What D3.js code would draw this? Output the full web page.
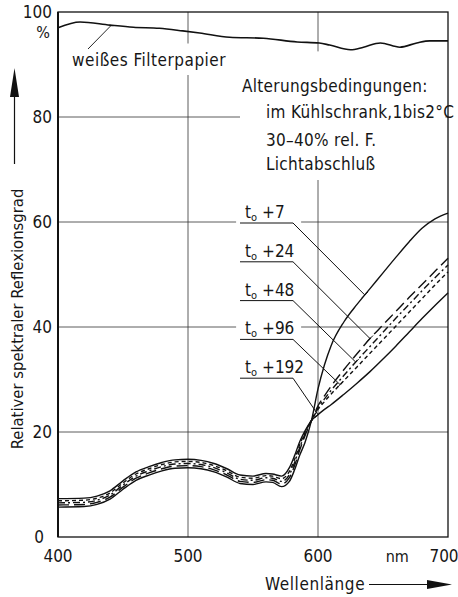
<!DOCTYPE html>
<html>
<head>
<meta charset="utf-8">
<script src="https://cdn.jsdelivr.net/npm/d3@7/dist/d3.min.js"></script>
<style>
body{margin:0;background:#fff}
text{font-family:"Liberation Sans Narrow","DejaVu Sans Condensed","Liberation Sans",sans-serif;fill:#161616}
</style>
</head>
<body>
<div id="chart"></div>
<script>
// wavelength grid (nm) shared by the five ageing curves
var wavelengths = [400,420,430,440,450,460,470,480,490,500,510,520,530,540,550,560,565,572,578,582,586,590,595,600,605,610,620,630,640,650,660,670,680,690,700];

var t7   = [5.7,5.8,6.2,7.2,9.1,10.8,11.8,12.6,13.1,13.2,13.0,12.4,11.4,10.2,10.0,10.5,10.4,9.6,10.6,12.8,15.6,18.0,22.2,28.2,32.8,36.4,41.0,44.3,47.3,50.3,53.3,56.2,58.8,60.6,61.7];
var t24  = [6.1,6.2,6.6,7.6,9.5,11.2,12.2,13.0,13.5,13.6,13.4,12.8,11.8,10.6,10.4,10.9,10.8,10.1,11.3,13.6,16.6,19.3,22.2,25.0,26.9,28.7,31.9,34.9,37.8,40.4,43.0,45.6,48.1,50.6,53.1];
var t48  = [6.5,6.6,7.0,8.0,9.9,11.6,12.6,13.4,13.9,14.0,13.8,13.2,12.2,11.0,10.8,11.3,11.2,10.6,11.9,14.2,17.1,19.6,22.2,24.6,26.3,27.9,30.8,33.6,36.3,39.0,41.7,44.3,46.9,49.4,51.8];
var t96  = [6.9,7.0,7.4,8.4,10.3,12.0,13.0,13.8,14.3,14.4,14.2,13.6,12.6,11.4,11.2,11.7,11.6,11.1,12.5,14.8,17.6,19.9,22.2,24.3,25.8,27.2,29.8,32.4,35.0,37.6,40.2,42.8,45.4,48.0,50.5];
var t192 = [7.3,7.4,7.8,8.8,10.7,12.4,13.4,14.2,14.7,14.8,14.6,14.0,13.0,11.8,11.6,12.1,12.0,11.6,13.2,15.5,18.2,20.2,22.2,23.3,24.3,25.2,27.2,29.3,31.5,33.9,36.4,39.0,41.6,44.1,46.5];

var seriesValues = [t7, t24, t48, t96, t192];
var seriesLabels = ['+7', '+24', '+48', '+96', '+192'];
var seriesDash = [null, '11,5', '7,3,2,3', '4,3', null];
var leaderNm = [636, 640, 629, 617, 600];

// white filter paper reference
var paperNm = [400,417,440,458,478,496,509,532,558,584,601,609,625,635,648,663,676,686,700];
var paperValues = [97.0,98.1,97.5,97.1,96.9,96.4,96.0,95.2,95.0,94.3,94.1,93.7,92.8,93.3,94.1,93.3,94.1,94.5,94.5];

var xTicks = [400, 500, 600, 700];
var yTicks = [0, 20, 40, 60, 80, 100];
var conditionLines = ['Alterungsbedingungen:', 'im Kühlschrank,1bis2°C', '30–40% rel. F.', 'Lichtabschluß'];

var width = 458, height = 597,
	margin = {top: 12, left: 58, right: 10, bottom: 60};

var x = d3.scaleLinear().domain([400, 700]).range([margin.left, width - margin.right]);
var y = d3.scaleLinear().domain([0, 100]).range([height - margin.bottom, margin.top]);

var svg = d3.select('#chart').append('svg')
	.attr('width', width)
	.attr('height', height);

// grid
svg.append('g').selectAll('line.gx')
	.data([500, 600]).enter()
	.append('line')
	.attr('x1', function(d){ return x(d); })
	.attr('x2', function(d){ return x(d); })
	.attr('y1', y(100)).attr('y2', y(0))
	.attr('stroke', '#333').attr('stroke-width', 0.8);

svg.append('g').selectAll('line.gy')
	.data([20, 40, 60, 80]).enter()
	.append('line')
	.attr('x1', x(400)).attr('x2', x(700))
	.attr('y1', function(d){ return y(d); })
	.attr('y2', function(d){ return y(d); })
	.attr('stroke', '#333').attr('stroke-width', 0.8);

// gaps in the grid behind the lettering
svg.append('rect').attr('x', x(410)).attr('y', y(94)).attr('width', x(520) - x(410)).attr('height', y(88) - y(94)).attr('fill', '#fff');
svg.append('rect').attr('x', x(540)).attr('y', y(92.5)).attr('width', x(698) - x(540)).attr('height', y(68) - y(92.5)).attr('fill', '#fff');
svg.append('rect').attr('x', x(537)).attr('y', y(65)).attr('width', x(587) - x(537)).attr('height', y(29) - y(65)).attr('fill', '#fff');

// frame
svg.append('rect')
	.attr('x', x(400)).attr('y', y(100))
	.attr('width', x(700) - x(400)).attr('height', y(0) - y(100))
	.attr('fill', 'none').attr('stroke', '#111').attr('stroke-width', 1.3);
svg.append('line')
	.attr('x1', x(400)).attr('x2', x(400)).attr('y1', y(100)).attr('y2', y(0))
	.attr('stroke', '#111').attr('stroke-width', 2);

// curves
var line = d3.line()
	.x(function(d){ return x(d[0]); })
	.y(function(d){ return y(d[1]); })
	.curve(d3.curveMonotoneX);

svg.append('path')
	.attr('d', line(d3.zip(paperNm, paperValues)))
	.attr('fill', 'none').attr('stroke', '#111').attr('stroke-width', 1.6);

svg.append('g').selectAll('path.ageing')
	.data(seriesValues).enter()
	.append('path')
	.attr('class', 'ageing')
	.attr('d', function(d){ return line(d3.zip(wavelengths, d)); })
	.attr('fill', 'none')
	.attr('stroke', '#111')
	.attr('stroke-width', 1.4)
	.attr('stroke-dasharray', function(d, i){ return seriesDash[i]; });

// axis tick labels
svg.append('g').selectAll('text.ytick')
	.data(yTicks).enter()
	.append('text')
	.attr('x', function(d){ return d === 0 ? 44 : 52; })
	.attr('y', function(d){ return y(d); })
	.attr('dy', '0.36em')
	.attr('text-anchor', 'end')
	.style('font-size', '17px')
	.text(function(d){ return d; });
svg.append('text').attr('x', 50).attr('y', y(96.2)).attr('dy', '0.36em')
	.attr('text-anchor', 'end').style('font-size', '16px').text('%');

svg.append('g').selectAll('text.xtick')
	.data(xTicks).enter()
	.append('text')
	.attr('x', function(d){ return d === 700 ? x(d) - 4 : x(d); })
	.attr('y', 562)
	.attr('text-anchor', 'middle')
	.style('font-size', '17px')
	.text(function(d){ return d; });
svg.append('text').attr('x', x(661)).attr('y', 562).attr('text-anchor', 'middle')
	.style('font-size', '16px').text('nm');

// axis titles with arrows
svg.append('text').attr('x', 265).attr('y', 590)
	.style('font-size', '17px').style('letter-spacing', '0.6px').text('Wellenlänge');
svg.append('line').attr('x1', 369).attr('x2', 430).attr('y1', 584.5).attr('y2', 584.5)
	.attr('stroke', '#111').attr('stroke-width', 1.2);
svg.append('path').attr('d', 'M452,584.5L427,580L427,589Z').attr('fill', '#111');

svg.append('text')
	.attr('transform', 'translate(23,' + 319 + ') rotate(-90)')
	.attr('text-anchor', 'middle')
	.style('font-size', '16.5px')
	.text('Relativer spektraler Reflexionsgrad');
svg.append('line').attr('x1', 14.5).attr('x2', 14.5).attr('y1', 164).attr('y2', 94)
	.attr('stroke', '#111').attr('stroke-width', 1.2);
svg.append('path').attr('d', 'M14.5,68L10,97L19,97Z').attr('fill', '#111');

// filter paper annotation
svg.append('text').attr('x', 72).attr('y', 66)
	.style('font-size', '17px').style('letter-spacing', '0.5px').text('weißes Filterpapier');
var paperAt = d3.scaleLinear().domain(paperNm).range(paperValues);
svg.append('line')
	.attr('x1', 88).attr('y1', 49)
	.attr('x2', x(441)).attr('y2', y(paperAt(441)))
	.attr('stroke', '#111').attr('stroke-width', 0.9);

// ageing conditions
svg.append('g').selectAll('text.cond')
	.data(conditionLines).enter()
	.append('text')
	.attr('x', function(d, i){ return i === 0 ? 242 : 266; })
	.attr('y', function(d, i){ return [92, 118, 146, 170][i]; })
	.style('font-size', '17px').style('letter-spacing', '0.3px')
	.text(function(d){ return d; });

// series labels with leader lines
var labelG = svg.append('g').selectAll('g.lbl')
	.data(seriesLabels).enter()
	.append('g').attr('class', 'lbl');

function underlineY(i){ return 223 + i * 38.8; }
function leaderEnd(i){
	var at = d3.scaleLinear().domain(wavelengths).range(seriesValues[i]);
	return [x(leaderNm[i]), y(at(leaderNm[i]))];
}

labelG.append('text')
	.attr('x', 245)
	.attr('y', function(d, i){ return underlineY(i) - 5; })
	.style('font-size', '17px')
	.each(function(d){
		var t = d3.select(this);
		t.append('tspan').text('t');
		t.append('tspan').attr('dy', 3).style('font-size', '11px').text('o');
		t.append('tspan').attr('dy', -3).attr('dx', 5).text(d);
	});

labelG.append('polyline')
	.attr('points', function(d, i){
		return [240, underlineY(i)] + ' ' + [293, underlineY(i)] + ' ' + leaderEnd(i);
	})
	.attr('fill', 'none').attr('stroke', '#111').attr('stroke-width', 1);

// small stop tick at the end of each leader
labelG.append('line')
	.attr('x1', function(d, i){ return leaderEnd(i)[0] - 3; })
	.attr('y1', function(d, i){ return leaderEnd(i)[1] + 3; })
	.attr('x2', function(d, i){ return leaderEnd(i)[0] + 3; })
	.attr('y2', function(d, i){ return leaderEnd(i)[1] - 3; })
	.attr('stroke', '#111').attr('stroke-width', 1);
</script>
</body>
</html>
